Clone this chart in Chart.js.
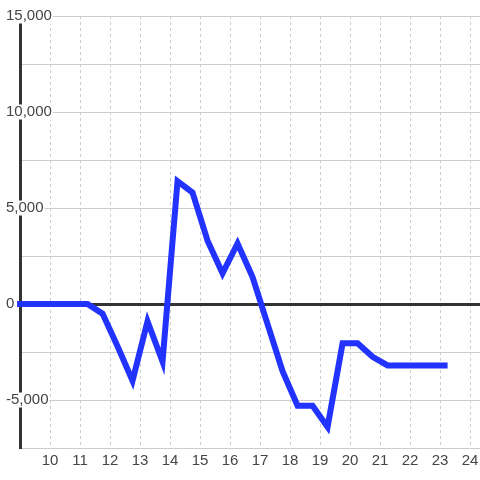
<!DOCTYPE html>
<html>
<head>
<meta charset="utf-8">
<script src="https://cdn.jsdelivr.net/npm/chart.js@4"></script>
<style>
    body { margin: 0; background: #fff; }
    #wrap { width: 480px; height: 480px; position: relative; }
</style>
</head>
<body>
<div id="wrap"><canvas id="lineChart"></canvas></div>
<script>
// x 位置 (小时)
const hours = [8.75, 9.25, 9.75, 10.25, 10.75, 11.25, 11.75, 12.25, 12.75, 13.25, 13.75,
    14.25, 14.75, 15.25, 15.75, 16.25, 16.75, 17.25, 17.75, 18.25, 18.75, 19.25,
    19.75, 20.25, 20.75, 21.25, 21.75, 22.25, 22.75, 23.25];
const values = [0, 0, 0, 0, 0, 0, -500, -2200, -4000, -900, -3000,
    6400, 5800, 3300, 1600, 3150, 1400, -1050, -3500, -5300, -5300, -6400,
    -2050, -2050, -2750, -3200, -3200, -3200, -3200, -3200];
const xTicks = [10, 11, 12, 13, 14, 15, 16, 17, 18, 19, 20, 21, 22, 23, 24];
const yTicks = [-7500, -5000, -2500, 0, 2500, 5000, 7500, 10000, 12500, 15000];

const textColor = '#444';
const fontFamily = '"Liberation Sans", Arial, sans-serif';

function buildPoints() {
    return hours.map((h, i) => ({ x: h, y: values[i] }));
}

function createChart() {
    const ctx = document.getElementById('lineChart').getContext('2d');
    return new Chart(ctx, {
        type: 'line',
        data: {
            datasets: [{
                data: buildPoints(),
                borderColor: '#2233ff',
                borderWidth: 6,
                pointRadius: 0,
                tension: 0,
                clip: { left: 3, top: 10, right: 0, bottom: 10 }
            }]
        },
        options: {
            responsive: true,
            maintainAspectRatio: false,
            animation: false,
            layout: { padding: { top: 16, left: 0, right: 0, bottom: 0 } },
            plugins: {
                legend: { display: false },
                tooltip: { enabled: false }
            },
            scales: {
                x: {
                    type: 'linear',
                    min: 9,
                    max: 24.33,
                    afterBuildTicks: scale => { scale.ticks = xTicks.map(v => ({ value: v })); },
                    afterFit: scale => {
                        scale.height = 32;
                        scale.paddingLeft = 0;
                        scale.paddingRight = 0;
                    },
                    grid: { color: '#ccc', lineWidth: 1, drawTicks: false },
                    border: { color: '#ccc', width: 1, dash: [3, 3] },
                    ticks: {
                        color: textColor,
                        font: { family: fontFamily, size: 15 },
                        padding: 4,
                        maxRotation: 0,
                        autoSkip: false
                    }
                },
                y: {
                    min: -7500,
                    max: 15000,
                    afterBuildTicks: scale => { scale.ticks = yTicks.map(v => ({ value: v })); },
                    afterFit: scale => { scale.width = 20; },
                    grid: {
                        drawTicks: false,
                        color: c => c.tick && c.tick.value === 0 ? '#333' : '#ccc',
                        lineWidth: c => c.tick && c.tick.value === 0 ? 3 : 1
                    },
                    border: { color: '#333', width: 3 },
                    ticks: {
                        mirror: true,
                        padding: -14,
                        color: textColor,
                        font: { family: fontFamily, size: 15, lineHeight: 1 },
                        showLabelBackdrop: true,
                        backdropColor: '#fff',
                        backdropPadding: { x: 1, y: 0 },
                        callback: v => v % 5000 === 0 ? v.toLocaleString('en-US') : ''
                    }
                }
            }
        }
    });
}

createChart();
</script>
</body>
</html>
